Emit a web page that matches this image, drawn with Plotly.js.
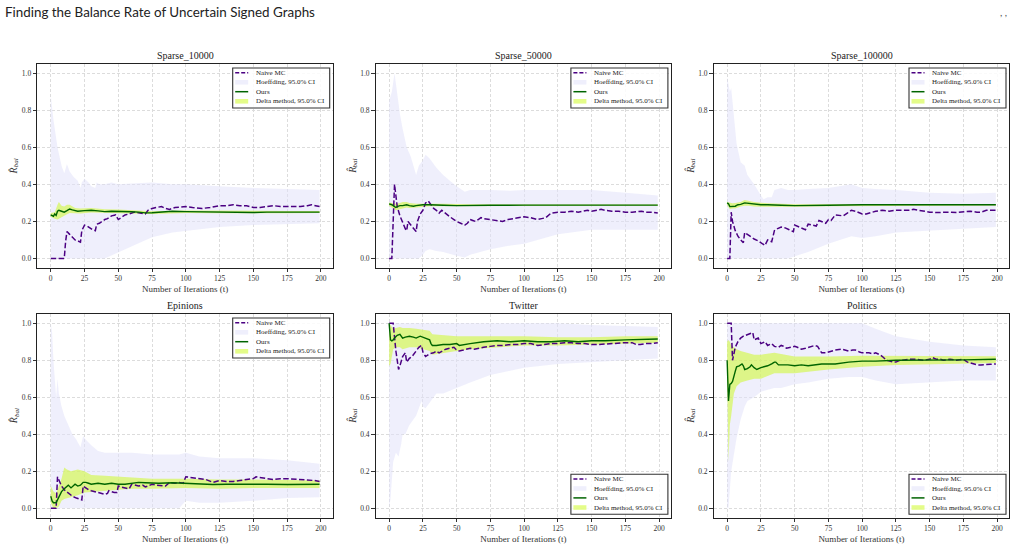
<!DOCTYPE html>
<html>
<head>
<meta charset="utf-8">
<script src="https://cdn.plot.ly/plotly-3.0.1.min.js"></script>
<style>html,body{margin:0;padding:0;background:#fff;}#chart{width:1017px;height:547px;}</style>
</head>
<body>
<div id="chart"></div>
<script>
// ---------------- DATA ----------------
const panelTitles = ["Sparse_10000", "Sparse_50000", "Sparse_100000", "Epinions", "Twitter", "Politics"];
const xTickVals = [0, 25, 50, 75, 100, 125, 150, 175, 200];
const yTickVals = [0, 0.2, 0.4, 0.6, 0.8, 1.0];
const yTickText = ["0.0", "0.2", "0.4", "0.6", "0.8", "1.0"];
const legendNames = ["Naive MC", "Hoeffding, 95.0% CI", "Ours", "Delta method, 95.0% CI"];
const xTitle = "Number of Iterations (t)";
const yLabelMain = "R̂";
const yLabelSub = "bal";

// Sparse_10000
const mcT_A = [0,10,11,12,14,16,18,20,22,23,25,27,29,31,33,34,36,38,40,42,45,48,50,52,55,58,62,66,70,72,75,78,82,85,88,92,97,100,105,112,118,125,130,135,140,145,150,155,160,165,170,175,180,185,190,193,196,199];
const mc_A = [0,0,0.09,0.145,0.13,0.115,0.1,0.095,0.088,0.15,0.18,0.175,0.165,0.155,0.15,0.185,0.19,0.2,0.21,0.215,0.23,0.235,0.21,0.22,0.235,0.24,0.25,0.245,0.24,0.26,0.27,0.275,0.28,0.27,0.265,0.275,0.28,0.28,0.275,0.27,0.275,0.285,0.285,0.29,0.285,0.285,0.275,0.275,0.28,0.285,0.28,0.28,0.28,0.28,0.285,0.29,0.285,0.28];
const hT_A = [0,2,5,8,10,12,14,17,20,22,23,25,28,30,33,34,36,40,45,50,60,75,90,100,125,150,175,199];
const hHi_A = [0.88,0.75,0.6,0.5,0.46,0.51,0.47,0.44,0.42,0.38,0.41,0.43,0.41,0.39,0.38,0.41,0.4,0.4,0.41,0.4,0.405,0.41,0.4,0.4,0.39,0.38,0.375,0.37];
const hLo_A = [0,0,0,0,0,0,0,0,0,0,0,0,0,0,0,0,0,0,0.015,0.03,0.065,0.115,0.14,0.15,0.17,0.18,0.185,0.19];
const oT_A = [0,2,3,4,5,6,8,10,12,14,16,18,20,25,30,35,40,45,50,55,60,65,70,75,80,85,90,100,110,120,130,140,150,160,175,190,199];
const ours_A = [0.235,0.228,0.24,0.232,0.255,0.26,0.255,0.25,0.258,0.267,0.262,0.258,0.255,0.258,0.26,0.257,0.253,0.255,0.255,0.253,0.252,0.25,0.246,0.247,0.25,0.253,0.255,0.253,0.252,0.251,0.25,0.248,0.248,0.25,0.25,0.25,0.25];
const dT_A = [0,3,5,6,8,10,12,14,18,22,30,40,50,60,75,100,125,150,175,199];
const dLo_A = [0.225,0.215,0.21,0.215,0.225,0.23,0.238,0.245,0.242,0.243,0.248,0.243,0.245,0.243,0.24,0.246,0.244,0.242,0.244,0.245];
const dHi_A = [0.245,0.25,0.29,0.305,0.285,0.28,0.29,0.29,0.272,0.27,0.272,0.265,0.264,0.26,0.255,0.259,0.257,0.255,0.256,0.256];

// Sparse_50000
const mcT_B = [0,2,4,5,6,8,10,12,13,14,15,16,18,20,21,23,25,27,29,31,33,35,37,39,42,45,48,50,53,56,58,60,62,64,66,68,70,75,80,84,88,92,96,100,105,110,113,116,120,125,130,135,140,145,147,150,153,157,160,165,170,175,180,187,190,195,199];
const mc_B = [0,0,0.4,0.33,0.28,0.23,0.19,0.16,0.15,0.2,0.19,0.18,0.16,0.145,0.2,0.24,0.26,0.3,0.31,0.29,0.27,0.26,0.245,0.26,0.24,0.225,0.21,0.2,0.19,0.18,0.19,0.21,0.205,0.2,0.21,0.22,0.215,0.21,0.205,0.2,0.21,0.215,0.22,0.225,0.22,0.21,0.215,0.22,0.245,0.25,0.25,0.255,0.25,0.26,0.26,0.255,0.26,0.265,0.26,0.255,0.255,0.25,0.25,0.255,0.25,0.25,0.245];
const hT_B = [0,2,4,6,8,10,13,16,18,20,22,25,27,30,35,40,45,50,56,60,75,90,100,125,150,175,199];
const hHi_B = [0.85,0.9,1.0,0.88,0.78,0.7,0.6,0.55,0.5,0.45,0.5,0.53,0.56,0.54,0.49,0.45,0.42,0.39,0.36,0.37,0.37,0.365,0.37,0.37,0.37,0.355,0.34];
const hLo_B = [0,0,0,0,0,0,0,0,0,0,0,0.02,0.04,0.05,0.04,0.035,0.025,0.015,0.005,0.02,0.05,0.07,0.08,0.13,0.155,0.155,0.155];
const oT_B = [0,2,4,5,6,8,10,13,15,18,20,25,30,35,40,50,60,75,100,125,150,175,199];
const ours_B = [0.295,0.29,0.28,0.275,0.28,0.285,0.285,0.29,0.285,0.282,0.285,0.29,0.29,0.29,0.287,0.285,0.287,0.287,0.288,0.287,0.288,0.288,0.288];
const dT_B = [0,3,5,8,10,13,15,20,30,40,60,100,150,199];
const dLo_B = [0.285,0.27,0.26,0.265,0.27,0.275,0.272,0.275,0.282,0.282,0.282,0.284,0.285,0.285];
const dHi_B = [0.302,0.3,0.295,0.3,0.305,0.305,0.3,0.295,0.297,0.295,0.292,0.292,0.292,0.291];

// Sparse_100000
const mcT_C = [0,2,3,4,6,8,10,12,13,15,17,20,23,25,27,28,30,32,33,35,37,40,43,46,49,50,53,56,58,60,63,66,68,70,73,75,77,80,83,86,89,92,95,98,100,103,107,110,115,120,125,128,132,135,138,142,145,150,155,160,165,170,175,180,185,188,192,196,199];
const mc_C = [0,0,0.25,0.2,0.15,0.12,0.1,0.085,0.14,0.13,0.12,0.105,0.095,0.085,0.075,0.07,0.1,0.095,0.09,0.15,0.16,0.17,0.165,0.155,0.145,0.18,0.17,0.16,0.155,0.185,0.18,0.175,0.205,0.2,0.19,0.21,0.205,0.235,0.232,0.23,0.245,0.26,0.255,0.245,0.24,0.24,0.25,0.255,0.26,0.255,0.26,0.26,0.258,0.26,0.265,0.26,0.255,0.25,0.248,0.25,0.25,0.248,0.25,0.255,0.25,0.25,0.26,0.26,0.26];
const hT_C = [0,2,3,5,7,10,13,15,20,25,27,30,33,35,40,45,50,60,75,92,100,110,125,150,175,199];
const hHi_C = [0.98,0.9,0.92,0.75,0.62,0.52,0.5,0.45,0.4,0.34,0.32,0.33,0.33,0.37,0.38,0.37,0.37,0.375,0.38,0.4,0.38,0.375,0.37,0.355,0.35,0.355];
const hLo_C = [0,0,0,0,0,0,0,0,0,0,0,0,0,0,0,0,0.01,0.035,0.08,0.12,0.11,0.12,0.14,0.15,0.16,0.17];
const oT_C = [0,1,2,4,6,8,10,13,15,18,22,25,30,35,40,50,60,75,100,125,150,175,199];
const ours_C = [0.3,0.295,0.28,0.283,0.282,0.29,0.292,0.3,0.298,0.295,0.29,0.29,0.29,0.29,0.287,0.285,0.287,0.287,0.29,0.29,0.29,0.29,0.29];
const dT_C = [0,2,4,6,10,13,16,20,30,50,75,100,150,199];
const dLo_C = [0.29,0.265,0.27,0.27,0.28,0.285,0.285,0.28,0.282,0.279,0.282,0.285,0.286,0.286];
const dHi_C = [0.305,0.3,0.298,0.3,0.305,0.315,0.31,0.305,0.298,0.292,0.293,0.294,0.294,0.294];

// Epinions
const mcT_D = [0,4,5,6,8,10,13,16,19,22,23,24,26,28,30,33,36,40,42,43,45,47,49,50,52,55,58,60,63,65,68,70,72,75,78,82,85,88,92,95,98,100,105,110,115,120,125,130,135,140,145,150,152,155,160,165,170,175,180,185,190,195,199];
const mc_D = [0,0,0.17,0.15,0.12,0.1,0.08,0.065,0.055,0.045,0.045,0.12,0.11,0.1,0.095,0.09,0.085,0.075,0.08,0.095,0.09,0.085,0.085,0.12,0.115,0.11,0.105,0.13,0.125,0.12,0.125,0.115,0.12,0.13,0.125,0.12,0.12,0.14,0.135,0.14,0.135,0.17,0.165,0.16,0.155,0.14,0.15,0.145,0.145,0.15,0.155,0.16,0.17,0.165,0.16,0.155,0.16,0.16,0.158,0.155,0.15,0.15,0.145];
const hT_D = [0,1,2,3,4,5,6,8,10,13,16,19,22,24,26,30,35,40,45,50,60,75,90,95,100,110,125,150,175,199];
const hHi_D = [1.0,0.95,0.8,0.7,0.6,0.7,0.62,0.55,0.5,0.45,0.4,0.37,0.33,0.39,0.37,0.34,0.31,0.3,0.3,0.3,0.3,0.29,0.29,0.29,0.3,0.28,0.27,0.27,0.26,0.24];
const hLo_D = [0,0,0,0,0,0,0,0,0,0,0,0,0,0,0,0,0,0,0,0,0,0,0,0,0.04,0.03,0.03,0.04,0.055,0.06];
const oT_D = [0,1,2,3,4,5,6,7,8,10,12,13,15,17,18,20,22,24,26,28,30,35,40,45,50,55,60,65,70,75,80,90,100,110,120,130,140,150,160,175,190,199];
const ours_D = [0.065,0.04,0.03,0.028,0.03,0.045,0.06,0.075,0.09,0.105,0.12,0.125,0.11,0.125,0.13,0.12,0.125,0.14,0.14,0.135,0.13,0.135,0.13,0.135,0.13,0.13,0.135,0.14,0.138,0.135,0.135,0.138,0.135,0.13,0.128,0.13,0.13,0.133,0.13,0.128,0.13,0.13];
const dT_D = [0,2,4,6,8,10,12,15,20,25,30,40,50,60,75,100,125,150,175,199];
const dLo_D = [0.03,0.0,0.0,0.01,0.04,0.05,0.055,0.06,0.07,0.085,0.09,0.095,0.1,0.105,0.105,0.11,0.105,0.11,0.11,0.11];
const dHi_D = [0.12,0.09,0.08,0.12,0.16,0.22,0.21,0.2,0.21,0.2,0.18,0.175,0.17,0.165,0.16,0.16,0.155,0.155,0.152,0.15];

// Twitter
const mcT_E = [0,3,5,7,8,9,10,12,13,14,15,17,20,22,24,25,27,30,33,35,37,40,42,45,48,50,52,55,60,63,66,70,75,80,85,90,95,100,105,110,115,120,125,130,135,140,145,150,155,160,165,170,175,180,183,186,190,195,199];
const mc_E = [1.0,1.0,0.85,0.75,0.77,0.8,0.82,0.84,0.79,0.8,0.81,0.82,0.85,0.87,0.88,0.845,0.82,0.835,0.84,0.85,0.84,0.85,0.86,0.865,0.87,0.855,0.85,0.855,0.865,0.86,0.865,0.87,0.875,0.88,0.88,0.885,0.885,0.89,0.89,0.88,0.885,0.89,0.89,0.895,0.895,0.89,0.89,0.885,0.885,0.888,0.89,0.89,0.895,0.895,0.885,0.885,0.89,0.89,0.895];
const hT_E = [0,1,3,5,7,9,10,12,15,20,24,25,27,30,35,40,50,60,75,100,125,150,175,199];
const hHi_E = [1,1,1,1,1,1,1,1,1,1,1,1,1,1,1,1,1,1,1,1,1,0.99,0.985,0.98];
const hLo_E = [0.0,0.05,0.25,0.3,0.28,0.35,0.4,0.4,0.45,0.5,0.58,0.55,0.54,0.57,0.62,0.62,0.65,0.68,0.72,0.76,0.78,0.79,0.8,0.81];
const oT_E = [0,1,2,3,4,6,8,10,12,15,18,20,23,25,28,30,31,32,35,40,45,50,52,55,60,70,80,90,100,110,120,130,140,150,160,175,190,199];
const ours_E = [1.0,0.91,0.905,0.91,0.92,0.935,0.94,0.92,0.925,0.93,0.925,0.92,0.93,0.925,0.915,0.91,0.89,0.88,0.88,0.885,0.885,0.89,0.88,0.885,0.89,0.9,0.905,0.9,0.905,0.9,0.9,0.905,0.9,0.905,0.905,0.91,0.912,0.915];
const dT_E = [0,1,2,3,5,8,10,15,20,25,30,32,40,50,60,75,100,125,150,175,199];
const dLo_E = [0.77,0.78,0.82,0.86,0.87,0.87,0.86,0.87,0.87,0.86,0.85,0.83,0.84,0.85,0.86,0.87,0.88,0.88,0.885,0.89,0.895];
const dHi_E = [1.0,0.99,0.98,0.97,0.975,0.98,0.975,0.975,0.97,0.965,0.96,0.94,0.935,0.93,0.93,0.93,0.93,0.925,0.925,0.93,0.93];

// Politics
const mcT_F = [0,3,4,5,6,8,10,12,15,18,19,20,22,23,25,27,28,30,32,33,35,38,40,42,44,47,50,52,55,58,60,63,65,67,70,73,75,78,80,85,88,90,93,95,98,100,103,105,108,110,113,115,118,120,123,125,128,130,135,140,145,150,152,155,158,160,165,170,175,178,180,183,185,188,192,195,199];
const mc_F = [1.0,1.0,0.8,0.84,0.87,0.9,0.92,0.93,0.94,0.95,0.95,0.91,0.915,0.92,0.89,0.895,0.9,0.88,0.885,0.89,0.875,0.87,0.88,0.875,0.865,0.87,0.875,0.87,0.86,0.865,0.87,0.875,0.88,0.875,0.84,0.84,0.845,0.85,0.855,0.86,0.855,0.85,0.855,0.855,0.845,0.84,0.84,0.84,0.835,0.84,0.83,0.82,0.8,0.795,0.79,0.79,0.8,0.8,0.805,0.805,0.8,0.805,0.815,0.805,0.805,0.8,0.805,0.8,0.805,0.79,0.785,0.78,0.775,0.775,0.775,0.778,0.78];
const hT_F = [0,1,2,3,4,5,7,10,13,15,20,25,30,35,40,50,60,75,90,100,110,125,150,175,199];
const hHi_F = [1,1,1,1,1,1,1,1,1,1,1,1,1,1,1,1,1,1,1,1,0.97,0.93,0.9,0.88,0.87];
const hLo_F = [0,0.0,0.1,0.2,0.25,0.3,0.38,0.48,0.55,0.58,0.6,0.63,0.64,0.65,0.65,0.67,0.68,0.7,0.71,0.71,0.69,0.67,0.68,0.69,0.69];
const oT_F = [0,1,2,3,4,5,6,7,9,11,12,13,15,17,18,20,22,25,28,30,33,35,36,38,40,45,50,55,60,65,70,80,90,100,110,125,150,175,199];
const ours_F = [0.8,0.58,0.67,0.675,0.685,0.72,0.74,0.765,0.77,0.78,0.77,0.75,0.755,0.765,0.775,0.76,0.75,0.76,0.765,0.77,0.78,0.79,0.79,0.775,0.775,0.775,0.77,0.775,0.77,0.775,0.78,0.78,0.79,0.795,0.795,0.8,0.8,0.802,0.805];
const dT_F = [0,1,2,3,5,7,10,15,20,25,35,50,75,100,125,150,175,199];
const dLo_F = [0.7,0.25,0.45,0.5,0.62,0.66,0.68,0.69,0.7,0.7,0.73,0.73,0.75,0.765,0.775,0.78,0.782,0.785];
const dHi_F = [0.9,0.91,0.9,0.88,0.87,0.86,0.85,0.84,0.83,0.83,0.84,0.82,0.82,0.825,0.825,0.822,0.822,0.822];

// ---------------- STYLE / LAYOUT ----------------
const C_MC = "#4b0082";
const C_OURS = "#006400";
const C_HOEF = "rgba(226,226,250,0.55)";
const C_DELTA = "rgba(205,250,40,0.55)";
const SERIF = "Liberation Serif, DejaVu Serif, serif";

const panels = [
  {mcT: mcT_A, mc: mc_A, hT: hT_A, hLo: hLo_A, hHi: hHi_A, oT: oT_A, ours: ours_A, dT: dT_A, dLo: dLo_A, dHi: dHi_A, leg: "top"},
  {mcT: mcT_B, mc: mc_B, hT: hT_B, hLo: hLo_B, hHi: hHi_B, oT: oT_B, ours: ours_B, dT: dT_B, dLo: dLo_B, dHi: dHi_B, leg: "top"},
  {mcT: mcT_C, mc: mc_C, hT: hT_C, hLo: hLo_C, hHi: hHi_C, oT: oT_C, ours: ours_C, dT: dT_C, dLo: dLo_C, dHi: dHi_C, leg: "top"},
  {mcT: mcT_D, mc: mc_D, hT: hT_D, hLo: hLo_D, hHi: hHi_D, oT: oT_D, ours: ours_D, dT: dT_D, dLo: dLo_D, dHi: dHi_D, leg: "top"},
  {mcT: mcT_E, mc: mc_E, hT: hT_E, hLo: hLo_E, hHi: hHi_E, oT: oT_E, ours: ours_E, dT: dT_E, dLo: dLo_E, dHi: dHi_E, leg: "bottom"},
  {mcT: mcT_F, mc: mc_F, hT: hT_F, hLo: hLo_F, hHi: hHi_F, oT: oT_F, ours: ours_F, dT: dT_F, dLo: dLo_F, dHi: dHi_F, leg: "bottom"}
];

const W = 1017, H = 547;
const colPx = [[37.3, 333], [375.7, 671.2], [713.7, 1009.3]];
const rowPx = [[64, 267.7], [314, 517.5]];

const traces = [];
const layout = {
  width: W, height: H,
  margin: {l: 0, r: 0, t: 0, b: 0},
  paper_bgcolor: "#ffffff",
  plot_bgcolor: "#ffffff",
  showlegend: false,
  title: {
    text: "Finding the Balance Rate of Uncertain Signed Graphs",
    x: 5 / W, xanchor: "left", xref: "paper",
    y: 1 - 12 / H, yanchor: "middle",
    font: {family: "Lato, Open Sans, sans-serif", size: 13.4, color: "#222"}
  },
  annotations: [],
  shapes: []
};

layout.annotations.push({
  text: ", ,", xref: "paper", yref: "paper", x: 1009 / W, y: 1 - 12 / H,
  xanchor: "right", yanchor: "middle", showarrow: false,
  font: {family: "Lato, sans-serif", size: 10, color: "#555"}
});

function polyX(t) { return t.concat(t.slice().reverse()); }
function polyY(hi, lo) { return hi.concat(lo.slice().reverse()); }

panels.forEach((p, i) => {
  const k = i + 1;
  const xa = k === 1 ? "x" : "x" + k;
  const ya = k === 1 ? "y" : "y" + k;
  const xKey = k === 1 ? "xaxis" : "xaxis" + k;
  const yKey = k === 1 ? "yaxis" : "yaxis" + k;
  const col = i % 3, row = Math.floor(i / 3);
  const [xl, xr] = colPx[col];
  const [yt, yb] = rowPx[row];

  layout[xKey] = {
    domain: [xl / W, xr / W], anchor: ya,
    range: [-9.95, 208.95], tickvals: xTickVals,
    ticks: "outside", ticklen: 3.5, tickwidth: 0.8, tickcolor: "#333",
    showline: true, mirror: true, linecolor: "#222", linewidth: 1.3,
    showgrid: true, gridcolor: "#dcdcdc", gridwidth: 0.8, griddash: "3px,2px",
    zeroline: false,
    tickfont: {family: SERIF, size: 7.5, color: "#333"},
    title: {text: xTitle, font: {family: SERIF, size: 9, color: "#333"}, standoff: 3}
  };
  layout[yKey] = {
    domain: [1 - yb / H, 1 - yt / H], anchor: xa,
    range: [-0.05, 1.05], tickvals: yTickVals, ticktext: yTickText,
    ticks: "outside", ticklen: 3.5, tickwidth: 0.8, tickcolor: "#333",
    showline: true, mirror: true, linecolor: "#222", linewidth: 1.3,
    showgrid: true, gridcolor: "#dcdcdc", gridwidth: 0.8, griddash: "3px,2px",
    zeroline: false,
    tickfont: {family: SERIF, size: 7.5, color: "#333"}
  };

  // y label (R-hat with subscript "bal"), drawn rotated beside the axis
  const yMid = (yt + yb) / 2;
  layout.annotations.push({
    text: yLabelMain, xref: "paper", yref: "paper",
    x: (xl - 23.3) / W, y: 1 - (yMid + 4.6) / H, xanchor: "center", yanchor: "middle",
    textangle: -90, showarrow: false,
    font: {family: SERIF, size: 10, color: "#333", style: "italic"}
  });
  layout.annotations.push({
    text: yLabelSub, xref: "paper", yref: "paper",
    x: (xl - 21) / W, y: 1 - (yMid - 3) / H, xanchor: "center", yanchor: "middle",
    textangle: -90, showarrow: false,
    font: {family: SERIF, size: 7, color: "#333", style: "italic"}
  });

  traces.push({
    x: polyX(p.hT), y: polyY(p.hHi, p.hLo), xaxis: xa, yaxis: ya,
    type: "scatter", mode: "lines", fill: "toself", fillcolor: C_HOEF,
    line: {width: 0, color: "rgba(0,0,0,0)"}, name: legendNames[1], hoverinfo: "skip"
  });
  traces.push({
    x: polyX(p.dT), y: polyY(p.dHi, p.dLo), xaxis: xa, yaxis: ya,
    type: "scatter", mode: "lines", fill: "toself", fillcolor: C_DELTA,
    line: {width: 0, color: "rgba(0,0,0,0)"}, name: legendNames[3], hoverinfo: "skip"
  });
  traces.push({
    x: p.mcT, y: p.mc, xaxis: xa, yaxis: ya, type: "scatter", mode: "lines",
    line: {color: C_MC, width: 1.5, dash: "5.5px,2.4px"}, name: legendNames[0]
  });
  traces.push({
    x: p.oT, y: p.ours, xaxis: xa, yaxis: ya, type: "scatter", mode: "lines",
    line: {color: C_OURS, width: 1.4}, name: legendNames[2]
  });

  layout.annotations.push({
    text: panelTitles[i], xref: xa + " domain", yref: ya + " domain",
    x: 0.5, y: 1, xanchor: "center", yanchor: "bottom", yshift: 1, showarrow: false,
    font: {family: SERIF, size: 10, color: "#222"}
  });

  const aw = xr - xl, ah = yb - yt;
  const bw = 97, bh = 40;
  const bx1 = aw - 3.3, bx0 = bx1 - bw;
  const btop = p.leg === "top" ? 4 : ah - 3.3 - bh;
  const fx = v => v / aw;
  const fy = v => 1 - v / ah;
  const xr_ = xa + " domain", yr_ = ya + " domain";
  layout.shapes.push({type: "rect", xref: xr_, yref: yr_, x0: fx(bx0), x1: fx(bx1), y0: fy(btop + bh), y1: fy(btop),
    fillcolor: "rgba(255,255,255,0.85)", line: {color: "#333", width: 1.1}});
  const off = [4.7, 14.3, 23.7, 33.3];
  const kx0 = bx0 + 2.5, kx1 = bx0 + 15.5;
  layout.shapes.push({type: "line", xref: xr_, yref: yr_, x0: fx(kx0), x1: fx(kx1), y0: fy(btop + off[0]), y1: fy(btop + off[0]),
    line: {color: C_MC, width: 1.5, dash: "4px,2px"}});
  layout.shapes.push({type: "rect", xref: xr_, yref: yr_, x0: fx(kx0), x1: fx(kx1), y0: fy(btop + off[1] + 2.3), y1: fy(btop + off[1] - 2.3),
    fillcolor: C_HOEF, line: {width: 0}});
  layout.shapes.push({type: "line", xref: xr_, yref: yr_, x0: fx(kx0), x1: fx(kx1), y0: fy(btop + off[2]), y1: fy(btop + off[2]),
    line: {color: C_OURS, width: 1.5}});
  layout.shapes.push({type: "rect", xref: xr_, yref: yr_, x0: fx(kx0), x1: fx(kx1), y0: fy(btop + off[3] + 2.3), y1: fy(btop + off[3] - 2.3),
    fillcolor: C_DELTA, line: {width: 0}});
  [0, 1, 2, 3].forEach((n, j) => {
    layout.annotations.push({
      text: legendNames[n], xref: xr_, yref: yr_, x: fx(bx0 + 21), y: fy(btop + off[j]),
      xanchor: "left", yanchor: "middle", showarrow: false,
      font: {family: SERIF, size: 7, color: "#222"}
    });
  });
});

Plotly.newPlot("chart", traces, layout, {displayModeBar: false, responsive: false});
</script>
</body>
</html>
